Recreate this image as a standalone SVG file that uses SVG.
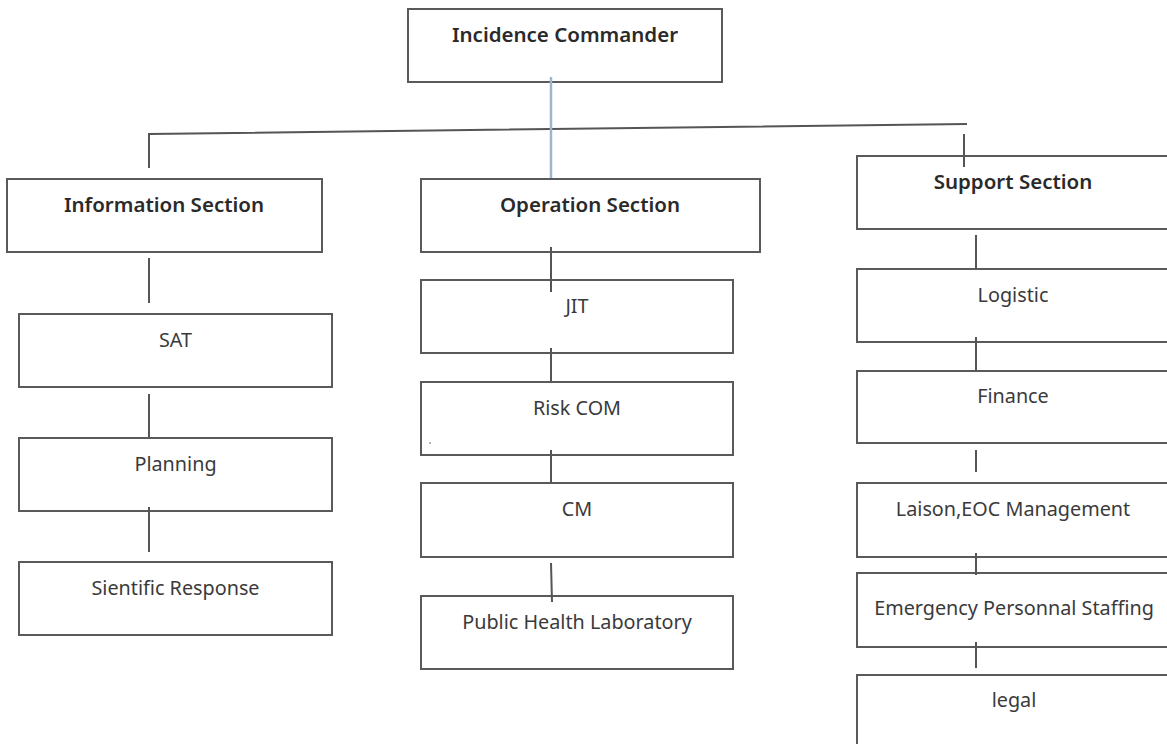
<svg xmlns="http://www.w3.org/2000/svg" width="1167" height="744" viewBox="0 0 1167 744">
<style>
.box{fill:#fff;stroke:#5a5a5a;stroke-width:2}
.sec{font-family:"Noto Sans","Open Sans",sans-serif;font-size:20.5px;font-weight:600;fill:#2a2a2a;text-anchor:middle}
.item{font-family:"Noto Sans","Open Sans",sans-serif;font-size:19.8px;fill:#3a3a3a;text-anchor:middle}
.ln{stroke:#555;stroke-width:2;fill:none}
</style>
<rect width="1167" height="744" fill="#fff"/>
<g id="commander"><rect class="box" x="408" y="9" width="314" height="73"/><text class="sec" x="565" y="42">Incidence Commander</text></g>
<g id="information"><rect class="box" x="7" y="179" width="315" height="73"/><text class="sec" x="164" y="212">Information Section</text></g>
<g id="operation"><rect class="box" x="421" y="179" width="339" height="73"/><text class="sec" x="590" y="212">Operation Section</text></g>
<g id="support"><rect class="box" x="857" y="156" width="320" height="73"/><text class="sec" x="1013" y="189">Support Section</text></g>
<g id="sat"><rect class="box" x="19" y="314" width="313" height="73"/><text class="item" x="175.5" y="347">SAT</text></g>
<g id="planning"><rect class="box" x="19" y="438" width="313" height="73"/><text class="item" x="175.5" y="471">Planning</text></g>
<g id="sientific"><rect class="box" x="19" y="562" width="313" height="73"/><text class="item" x="175.5" y="595">Sientific Response</text></g>
<g id="jit"><rect class="box" x="421" y="280" width="312" height="73"/><text class="item" x="577" y="313">JIT</text></g>
<g id="riskcom"><rect class="box" x="421" y="382" width="312" height="73"/><text class="item" x="577" y="415">Risk COM</text><circle cx="430" cy="443" r="0.8" fill="#555"/></g>
<g id="cm"><rect class="box" x="421" y="483" width="312" height="74"/><text class="item" x="577" y="516">CM</text></g>
<g id="phl"><rect class="box" x="421" y="596" width="312" height="73"/><text class="item" x="577" y="629">Public Health Laboratory</text></g>
<g id="logistic"><rect class="box" x="857" y="269" width="320" height="73"/><text class="item" x="1013" y="302">Logistic</text></g>
<g id="finance"><rect class="box" x="857" y="371" width="320" height="72"/><text class="item" x="1013" y="403">Finance</text></g>
<g id="laison"><rect class="box" x="857" y="483" width="320" height="74"/><text class="item" x="1013" y="516">Laison,EOC Management</text></g>
<g id="emergency"><rect class="box" x="857" y="573" width="320" height="74"/><text class="item" x="1014" y="615">Emergency Personnal Staffing</text></g>
<g id="legal"><rect class="box" x="857" y="675" width="320" height="80"/><text class="item" x="1014" y="707">legal</text></g>
<g id="connectors">
<path class="ln" d="M149,168 V134 L967,124" stroke="#222"/>
<line x1="551" y1="77" x2="551" y2="178" stroke="#9fb4cf" stroke-width="2.5"/>
<line class="ln" x1="964" y1="134" x2="964" y2="167"/>
<line class="ln" x1="149" y1="258" x2="149" y2="303"/>
<line class="ln" x1="149" y1="394" x2="149" y2="438"/>
<line class="ln" x1="149" y1="507" x2="149" y2="552"/>
<line class="ln" x1="551" y1="247" x2="551" y2="292"/>
<line class="ln" x1="551" y1="348" x2="551" y2="382"/>
<line class="ln" x1="551" y1="450" x2="551" y2="483"/>
<line class="ln" x1="551" y1="563" x2="552" y2="602" stroke="#222"/>
<line class="ln" x1="976" y1="235" x2="976" y2="268"/>
<line class="ln" x1="976" y1="337" x2="976" y2="371"/>
<line class="ln" x1="976" y1="450" x2="976" y2="472"/>
<line class="ln" x1="976" y1="553" x2="976" y2="575"/>
<line class="ln" x1="976" y1="642" x2="976" y2="668"/>
</g>
</svg>
